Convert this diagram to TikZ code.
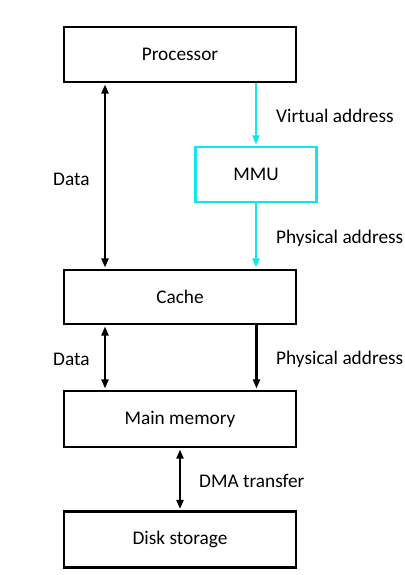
\documentclass[tikz,border=0pt]{standalone}
\usepackage{fontspec}
\setmainfont{Carlito}
\usetikzlibrary{arrows.meta}
\definecolor{mmucyan}{RGB}{20,228,238}
\tikzset{
  box/.style={draw=black, line width=2.1pt, minimum width=232pt, minimum height=55pt, inner sep=0pt, font=\fontsize{19.3}{21}\selectfont},
  lbl/.style={anchor=west, inner sep=0pt, font=\fontsize{19.3}{21}\selectfont},
  conn/.style={line width=2.1pt, -{Triangle[length=9pt,width=7pt]}, shorten >=1.5pt},
  biconn/.style={line width=2.1pt, {Triangle[length=9pt,width=7pt]}-{Triangle[length=9pt,width=7pt]}, shorten >=1.5pt, shorten <=1.5pt},
}
\begin{document}
\begin{tikzpicture}[x=1pt,y=-1pt]
\useasboundingbox (0,0) rectangle (404,575);
\node[box] (proc) at (180,54.5) {Processor};
\node[box, draw=mmucyan, minimum width=121pt, minimum height=55pt] (mmu) at (256,174.5) {MMU};
\node[box, minimum height=54pt] (cache) at (180,297) {Cache};
\node[box, minimum height=56pt] (mem) at (180,419) {Main memory};
\node[box, minimum height=56pt] (disk) at (180,539.5) {Disk storage};
\coordinate (xl) at (105,0);
\coordinate (xr) at (256.5,0);
\draw[biconn] (proc.south -| xl) -- (cache.north -| xl);
\draw[conn, draw=mmucyan, fill=mmucyan] (proc.south -| mmu) -- (mmu.north);
\draw[conn, draw=mmucyan, fill=mmucyan] (mmu.south) -- (cache.north -| mmu);
\draw[biconn] (cache.south -| xl) -- (mem.north -| xl);
\draw[conn] (cache.south -| xr) -- (mem.north -| xr);
\draw[biconn] (mem.south) -- (disk.north);
\node[lbl] (lva) at (276,116) {Virtual address};
\node[lbl] (ld1) at (53,179) {Data};
\node[lbl] (lpa1) at (276,238) {Physical address};
\node[lbl] (ld2) at (53,359) {Data};
\node[lbl] (lpa2) at (276,359) {Physical address};
\node[lbl] (ldma) at (199,481) {DMA transfer};
\end{tikzpicture}
\end{document}
